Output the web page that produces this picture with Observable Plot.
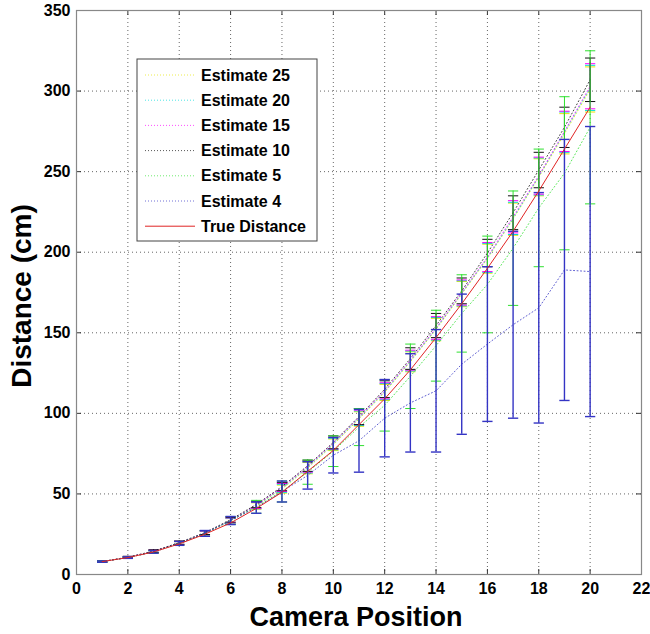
<!DOCTYPE html>
<html><head><meta charset="utf-8">
<script src="https://cdn.jsdelivr.net/npm/d3@7"></script>
<script src="https://cdn.jsdelivr.net/npm/@observablehq/plot@0.6"></script>
<style>body{margin:0;background:#fff} svg{display:block}</style>
</head><body><div id="chart"></div>
<script>
const positions = [1,2,3,4,5,6,7,8,9,10,11,12,13,14,15,16,17,18,19,20];
const trueDistance = [8,10.5,14,19,25,32,41,51,64,77,93,109,127,147,168,190,213,238,264,290];

const est25Mean = [8,10.6,14.2,19.4,25.6,33.2,42.5,53,66,80.5,96.5,113,132,152,174,196,220.5,246.5,273.5,301];
const est25Err  = [0.4,0.5,0.8,1,1.2,1.5,2,2.5,3.5,3.6,4.5,5,6.2,7,7.8,9,10,11.5,12.5,14];
const est20Mean = [8,10.6,14.3,19.5,25.7,33.4,42.8,53.5,66.5,81,97,113.5,132.5,152.5,174.5,196.5,221,247,274.5,302];
const est20Err  = [0.4,0.5,0.8,1,1.2,1.5,2,2.5,3.5,3.6,4.5,5,6.2,7,7.8,9,10,11.5,12.5,14];
const est15Mean = [8,10.7,14.4,19.6,25.8,33.6,43,54,67,81.5,97.5,114,133,153,175,197,222,247.5,275,303];
const est15Err  = [0.4,0.5,0.8,1,1.2,1.5,2,2.5,3.5,3.6,4.5,5,6.2,7,7.8,9,10,11.5,12.5,14];
const est10Mean = [8,10.8,14.5,19.8,26,34,43.5,54.5,67.5,82,98,115,134,154.5,176,199.5,224.5,251,277.5,307];
const est10Err  = [0.4,0.5,0.8,1,1.2,1.5,2,2.5,3.5,4,5,5.2,6.7,7.5,8,8.5,10.5,11,12.5,13.5];
const est5Mean  = [8,10.5,14,19.3,25.5,33.5,42,51.5,63.5,76.5,91.5,105,123,142,162,180,202.5,227.5,249,277.5];
const est5Err   = [0.4,0.5,0.8,1.2,1.8,2.5,4,6.5,7.5,9.5,11.5,16,20,22,24,30,35.5,36.5,47.5,47.5];
const est4Mean  = [8,10.5,14,19.3,25.5,33.5,41.5,51.5,61.5,74,83,97,106.5,114,130.5,143,155,165.5,189,188];
const est4Err   = [0.4,0.5,0.8,1.2,1.8,2.5,3.5,6.5,8.5,11,19.5,24,30.5,38,43.5,48,58,71.5,81,90];

const seriesNames  = ["Estimate 25","Estimate 20","Estimate 15","Estimate 10","Estimate 5","Estimate 4"];
const seriesMeans  = [est25Mean, est20Mean, est15Mean, est10Mean, est5Mean, est4Mean];
const seriesErrs   = [est25Err, est20Err, est15Err, est10Err, est5Err, est4Err];
const seriesColors = ["#e6e600","#00d8d8","#ff00ff","#111111","#30e030","#3434c4"];
const trueName = "True Distance";
const trueColor = "#e02424";

const xTicks = [0,2,4,6,8,10,12,14,16,18,20,22];
const yTicks = [0,50,100,150,200,250,300,350];

const capHalf = 0.2;

const marks = [
  Plot.gridX(xTicks, {stroke:"#333", strokeOpacity:0.75, strokeDasharray:"1,3"}),
  Plot.gridY(yTicks, {stroke:"#333", strokeOpacity:0.75, strokeDasharray:"1,3"})
];

seriesNames.forEach((name, s) => {
  const rows = positions.map((x, i) => ({x, mean: seriesMeans[s][i], lo: seriesMeans[s][i] - seriesErrs[s][i], hi: seriesMeans[s][i] + seriesErrs[s][i]}));
  const c = seriesColors[s];
  const w = s === 5 ? 1.4 : 1;
  marks.push(Plot.line(rows, {x:"x", y:"mean", stroke:c, strokeWidth:1, strokeOpacity:0.8, strokeDasharray:"1,2.5"}));
  marks.push(Plot.ruleX(rows, {x:"x", y1:"lo", y2:"hi", stroke:c, strokeWidth:w}));
  marks.push(Plot.link(rows, {x1:d=>d.x-capHalf, x2:d=>d.x+capHalf, y1:"lo", y2:"lo", stroke:c, strokeWidth:w}));
  marks.push(Plot.link(rows, {x1:d=>d.x-capHalf, x2:d=>d.x+capHalf, y1:"hi", y2:"hi", stroke:c, strokeWidth:w}));
});

const trueRows = positions.map((x, i) => ({x, y: trueDistance[i]}));
marks.push(Plot.line(trueRows, {x:"x", y:"y", stroke:trueColor, strokeWidth:1}));

// inward ticks on all four sides
const xd = [0,22], yd = [0,350];
const tx = (xd[1]-xd[0]) * 5/565, ty = (yd[1]-yd[0]) * 5/564;
marks.push(Plot.ruleX(xTicks, {y1: yd[0], y2: yd[0]+ty, stroke:"#333"}));
marks.push(Plot.ruleX(xTicks, {y1: yd[1]-ty, y2: yd[1], stroke:"#333"}));
marks.push(Plot.ruleY(yTicks, {x1: xd[0], x2: xd[0]+tx, stroke:"#333"}));
marks.push(Plot.ruleY(yTicks, {x1: xd[1]-tx, x2: xd[1], stroke:"#333"}));
marks.push(Plot.frame({stroke:"#888", strokeWidth:1.2}));

const plot = Plot.plot({
  width: 650,
  height: 634,
  marginLeft: 76,
  marginRight: 9,
  marginTop: 10,
  marginBottom: 60,
  style: {fontFamily: "'Liberation Sans', Arial, sans-serif", fontSize: "16px", fontWeight: "bold", color:"#000", background:"#fff"},
  x: {domain: xd, ticks: xTicks, tickSize: 0, tickPadding: 8, label: null},
  y: {domain: yd, ticks: yTicks, tickSize: 0, tickPadding: 6, label: null},
  marks
});

const svg = d3.select(plot);
// axis titles
svg.append("text").attr("x", 356).attr("y", 626).attr("text-anchor","middle")
  .style("font-size","27px").style("font-weight","bold").attr("fill","#000").text("Camera Position");
svg.append("text").attr("transform","translate(31,296) rotate(-90)").attr("text-anchor","middle")
  .style("font-size","28px").style("font-weight","bold").attr("fill","#000").text("Distance (cm)");

// legend
const lg = svg.append("g").attr("transform","translate(137,59)");
lg.append("rect").attr("width",180).attr("height",182).attr("fill","#fff").attr("stroke","#444").attr("stroke-width",1);
const legendNames = seriesNames.concat([trueName]);
const legendColors = seriesColors.concat([trueColor]);
legendNames.forEach((n, i) => {
  const yy = 16 + i*25.2;
  lg.append("line").attr("x1",8).attr("x2",58).attr("y1",yy).attr("y2",yy)
    .attr("stroke", legendColors[i]).attr("stroke-width",1)
    .attr("stroke-opacity", i < seriesNames.length ? 0.7 : 1)
    .attr("stroke-dasharray", i < seriesNames.length ? "1,2" : null);
  lg.append("text").attr("x",64).attr("y",yy).attr("dy","0.35em").attr("text-anchor","start")
    .style("font-size","16px").style("font-weight","bold").attr("fill","#000").text(n);
});

document.getElementById("chart").appendChild(plot);
</script>
</body></html>
